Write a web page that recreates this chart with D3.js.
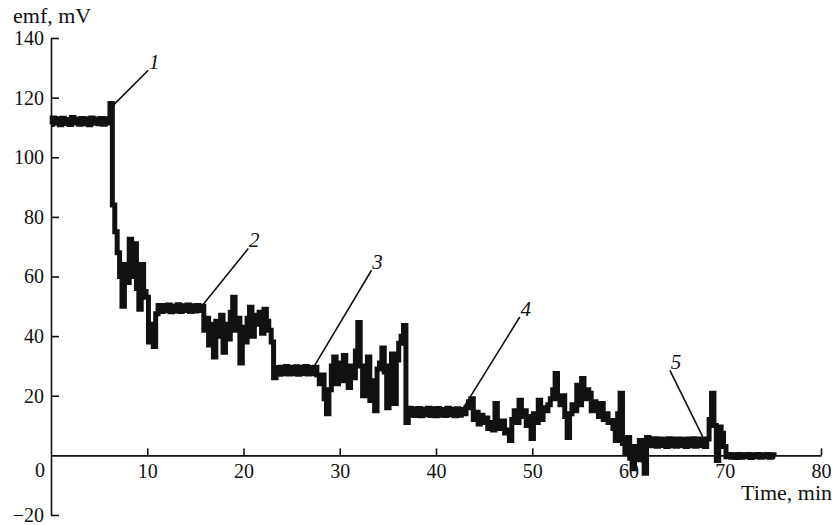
<!DOCTYPE html>
<html>
<head>
<meta charset="utf-8">
<script src="https://cdn.jsdelivr.net/npm/d3@7"></script>
<style>
  body { margin: 0; background: #fff; }
  text { font-family: "Liberation Serif", "Times New Roman", serif; fill: #111; }
</style>
</head>
<body>
<svg width="832" height="525"></svg>
<script>
// emf trace, one reading every 0.25 min (one row = 5 min)
var dt = 0.25;
var emf = [
  111.0,113.2,111.4,112.9,110.9,113.1,111.3,112.7,111.0,113.3,111.5,112.8,111.1,113.0,111.2,112.9,110.9,113.2,111.4,112.8,
  111.2,113.0,111.1,112.9,111.5,118.0,84.0,75.0,68.0,60.0,50.0,64.0,58.0,72.5,60.0,71.0,56.0,49.0,64.0,55.0,
  53.0,38.0,44.0,36.5,47.5,50.3,48.3,50.3,48.5,50.4,48.2,50.1,48.4,50.5,48.3,50.2,48.6,50.4,48.3,50.2,
  48.4,50.3,48.6,50.0,42.0,46.0,37.0,44.0,33.0,45.0,40.0,47.0,34.6,44.0,39.0,48.0,53.0,42.0,46.0,31.0,
  43.0,38.0,46.0,49.7,40.0,47.0,44.0,48.0,41.0,49.0,45.0,42.0,38.0,26.0,29.5,27.2,29.6,27.4,29.8,27.3,
  29.5,27.4,29.7,27.2,29.6,27.5,29.8,27.3,29.5,27.4,29.6,27.0,24.0,27.0,19.0,14.0,22.0,30.0,33.0,24.0,
  31.0,25.0,33.5,27.0,22.8,30.0,26.0,35.0,44.6,30.0,20.0,28.0,33.0,18.4,25.0,15.0,29.0,31.0,36.0,28.0,
  16.0,30.0,34.0,17.4,32.0,37.6,40.0,43.6,11.0,15.8,13.5,15.6,13.4,15.7,13.3,15.5,13.6,15.8,13.4,15.6,
  13.3,15.7,13.5,15.4,13.4,15.8,13.6,15.5,13.3,15.6,13.5,15.4,14.0,16.0,18.0,19.0,12.0,14.5,10.5,13.5,
  11.0,12.5,9.0,11.0,8.5,17.4,10.0,9.0,11.5,7.5,8.5,5.0,12.0,15.0,11.0,18.5,13.0,15.0,10.0,13.0,
  5.7,14.0,11.0,18.5,12.0,16.0,15.0,17.0,19.0,22.0,27.5,19.0,17.0,20.0,13.0,6.0,14.0,17.0,15.0,23.5,
  17.0,25.8,19.0,22.0,20.8,15.0,18.0,16.0,13.0,17.4,12.0,14.0,11.0,11.7,9.0,5.0,14.0,20.8,4.0,0.7,
  6.0,-1.0,-4.5,3.0,-1.5,5.0,0.5,-6.0,6.0,4.5,3.2,5.6,3.1,5.5,3.3,5.4,3.0,5.6,3.2,5.5,
  3.1,5.5,3.3,5.4,3.0,5.5,3.2,5.6,3.1,5.5,3.3,5.4,3.0,5.5,12.0,20.8,10.0,-1.7,9.5,7.4,
  3.0,-0.5,0.3,-0.6,0.2,-0.7,0.3,-0.6,0.2,-0.5,0.3,-0.7,0.2,-0.5,0.3,-0.6,0.2,-0.5,0.3,-0.6,
  0.2,-0.4
];

var xTicks = [10, 20, 30, 40, 50, 60, 70, 80];
var yTicks = [-20, 20, 40, 60, 80, 100, 120, 140];

// numbered call-outs: point on the trace -> upper end of the leader line (min, mV)
var markLabels = ["1", "2", "3", "4", "5"];
var markFrom = [[6.3, 116.9], [15.66, 50.0], [27.4, 30.2], [42.8, 15.7], [67.9, 5.0]];
var markTo   = [[10.1, 129.2], [20.5, 69.4], [33.3, 62.1], [48.7, 46.4], [64.3, 28.5]];

var svg = d3.select("svg");

var x = d3.scaleLinear().domain([0, 80]).range([51, 821]),
    y = d3.scaleLinear().domain([-20, 140]).range([515, 38]);

var data = emf.map(function(v, i) { return {t: i * dt, v: v}; });

// step curve so the fast noise shows up as solid vertical spikes, like the recorder trace
var line = d3.line()
    .curve(d3.curveStep)
    .x(function(d) { return x(d.t); })
    .y(function(d) { return y(d.v); });

// y axis, ticks point inwards
var gy = svg.append("g")
    .attr("transform", "translate(" + x(0) + ",0)")
    .call(d3.axisLeft(y).tickValues(yTicks).tickSizeInner(-8).tickSizeOuter(0).tickPadding(7));

// x axis along emf = 0
var gx = svg.append("g")
    .attr("transform", "translate(0," + y(0) + ")")
    .call(d3.axisBottom(x).tickValues(xTicks).tickSizeInner(-7).tickSizeOuter(0).tickPadding(8));

gy.attr("font-family", null);
gx.attr("font-family", null);

svg.selectAll(".tick line, .domain")
    .attr("stroke", "#111")
    .attr("stroke-width", 1.6);

svg.selectAll(".tick text")
    .style("font-size", "20px");

// shared origin label
svg.append("text")
    .attr("x", x(0) - 11)
    .attr("y", y(0) + 22)
    .attr("text-anchor", "middle")
    .style("font-size", "20px")
    .text("0");

svg.append("text")
    .attr("x", 13)
    .attr("y", 23)
    .style("font-size", "22px")
    .text("emf, mV");

svg.append("text")
    .attr("x", 832)
    .attr("y", 500)
    .attr("text-anchor", "end")
    .style("font-size", "22px")
    .text("Time, min");

// the trace
svg.append("path")
    .datum(data)
    .attr("fill", "none")
    .attr("stroke", "#111")
    .attr("stroke-width", 5)
    .attr("d", line);

// leader lines and numbers
markLabels.forEach(function(lab, i) {
  svg.append("line")
      .attr("x1", x(markFrom[i][0])).attr("y1", y(markFrom[i][1]))
      .attr("x2", x(markTo[i][0])).attr("y2", y(markTo[i][1]))
      .attr("stroke", "#111")
      .attr("stroke-width", 1.6);
  svg.append("text")
      .attr("x", x(markTo[i][0]) + 6)
      .attr("y", y(markTo[i][1]) - 1)
      .attr("text-anchor", "middle")
      .style("font-size", "21px")
      .style("font-style", "italic")
      .text(lab);
});
</script>
</body>
</html>
